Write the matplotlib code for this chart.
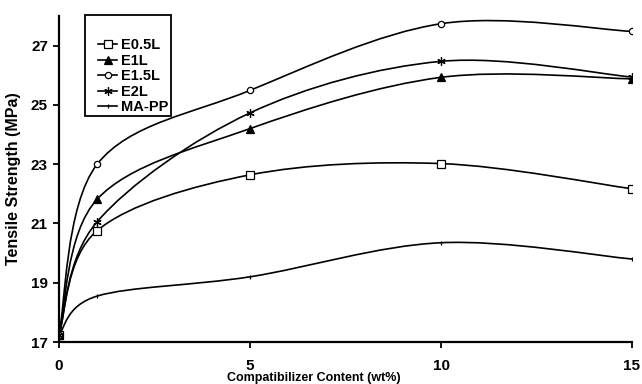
import numpy as np
import matplotlib
matplotlib.use("Agg")
import matplotlib.pyplot as plt
from matplotlib.path import Path
from matplotlib.patches import PathPatch, Rectangle
from matplotlib.lines import Line2D

plt.rcParams['font.family'] = ['Liberation Sans Narrow', 'Liberation Sans', 'DejaVu Sans']
plt.rcParams['font.weight'] = 'bold'

# Compatibilizer content (wt%)
content = [0, 1, 5, 10, 15]

# Tensile strength (MPa) for each blend
e05l = [17.25, 20.76, 22.64, 23.02, 22.17]
e1l = [17.25, 21.82, 24.20, 25.93, 25.88]
e15l = [17.25, 23.00, 25.49, 27.74, 27.48]
e2l = [17.25, 21.06, 24.73, 26.47, 25.94]
mapp = [17.25, 18.55, 19.20, 20.35, 19.80]

series = [
    ("E0.5L", e05l, dict(marker='s', ms=5.5, mfc='white')),
    ("E1L", e1l, dict(marker='^', ms=5.5, mfc='black')),
    ("E1.5L", e15l, dict(marker='o', ms=4.5, mfc='white')),
    ("E2L", e2l, dict(marker=(6, 2, 0), ms=6, mfc='black')),
    ("MA-PP", mapp, dict(marker='|', ms=3.5, mfc='black')),
]


def smooth_path(x, y):
    """Bezier path through the points, Catmull-Rom style control points."""
    pts = np.column_stack([x, y]).astype(float)
    n = len(pts)
    verts = [pts[0]]
    codes = [Path.MOVETO]
    for i in range(n - 1):
        p0 = pts[max(i - 1, 0)]
        p1 = pts[i]
        p2 = pts[i + 1]
        p3 = pts[min(i + 2, n - 1)]
        verts += [p1 + (p2 - p0) / 6, p2 - (p3 - p1) / 6, p2]
        codes += [Path.CURVE4] * 3
    return Path(verts, codes)


fig = plt.figure(figsize=(6.42, 3.84), dpi=100)
ax = fig.add_axes([59 / 642, 1 - 342 / 384, (632 - 59) / 642, (342 - 16) / 384])

handles = []
for name, vals, style in series:
    ax.add_patch(PathPatch(smooth_path(content, vals), fill=False,
                           edgecolor='black', lw=1.2, zorder=2))
    ax.plot(content, vals, ls='none', mec='black', mew=0.9, zorder=3, **style)
    handles.append(Line2D([], [], color='black', lw=1.2, mec='black',
                          mew=0.9, **style))

ax.set_xlim(0, 15)
ax.set_ylim(17, 28)
ax.set_xticks([0, 5, 10, 15])
ax.set_yticks([17, 19, 21, 23, 25, 27])
ax.tick_params(axis='both', direction='out', length=4, width=1.3,
               labelsize=11)
ax.tick_params(axis='x', pad=8)
ax.tick_params(axis='y', pad=4)
for lab in ax.get_xticklabels() + ax.get_yticklabels():
    lab.set_fontweight('bold')

for side in ('top', 'right'):
    ax.spines[side].set_visible(False)
for side in ('left', 'bottom'):
    ax.spines[side].set_linewidth(1.6)

ax.set_ylabel("Tensile Strength (MPa)", fontsize=11.5, fontweight='bold')
ax.yaxis.set_label_coords(-0.066, 0.5)
ax.set_xlabel("Compatibilizer Content (wt%)", fontsize=9, fontweight='bold')
ax.xaxis.set_label_coords(0.445, -0.092)

# legend box with extra room at the top
fig.patches.append(Rectangle((85 / 642, 1 - 116 / 384), 86 / 642, 101 / 384,
                             transform=fig.transFigure, fill=False,
                             edgecolor='black', lw=1.3, zorder=5))
fig.legend(handles, [s[0] for s in series], loc='upper left',
           bbox_to_anchor=(91 / 642, 1 - 31 / 384), frameon=False,
           handlelength=1.3, handletextpad=0.25, labelspacing=0.1,
           borderpad=0, prop={'weight': 'bold', 'size': 10.5})

fig.savefig("out.png", dpi=100)
